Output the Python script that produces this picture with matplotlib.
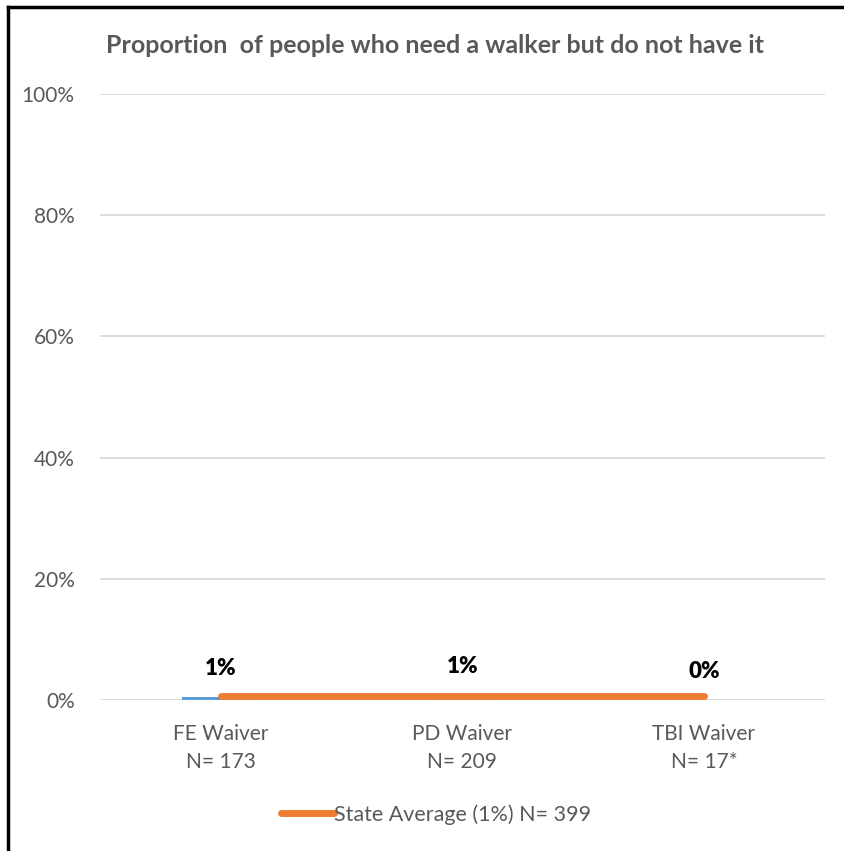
import matplotlib.pyplot as plt
from matplotlib.lines import Line2D
import numpy as np

plt.rcParams['font.family'] = ['Lato', 'DejaVu Sans']

categories = ["FE Waiver\nN= 173", "PD Waiver\nN= 209", "TBI Waiver\nN= 17*"]
values = [0.5, 0.8, 0.0]
value_labels = ["1%", "1%", "0%"]
state_avg = 0.7
state_label = "State Average (1%) N= 399"
title = "Proportion  of people who need a walker but do not have it"

grey = "#595959"

fig = plt.figure(figsize=(8.45, 8.51), dpi=100)
ax = fig.add_axes([0.118, 0.1774, 0.858, 0.7121])

x = np.arange(len(categories))
ax.bar(x, values, width=0.32, color="#5b9bd5", zorder=2)
ax.plot(x, [state_avg] * len(x), color="#ed7d31", lw=5, solid_capstyle="round",
        label=state_label, zorder=3)

for xi, v, lab in zip(x, values, value_labels):
    ax.annotate(lab, (xi, v), xytext=(0, 13), textcoords="offset points",
                ha="center", va="bottom", fontsize=16, fontweight="heavy", color="black")

ax.set_xlim(-0.5, 2.5)
ax.set_ylim(0, 100)
ax.set_yticks(np.arange(0, 101, 20))
ax.set_yticklabels([f"{t}%" for t in range(0, 101, 20)])
ax.set_xticks(x)
ax.set_xticklabels(categories, linespacing=1.55)
ax.tick_params(axis="both", length=0, labelsize=15, labelcolor=grey)
ax.tick_params(axis="y", pad=18)
ax.tick_params(axis="x", pad=17)
ax.yaxis.grid(True, color="#d9d9d9", lw=1.3, zorder=0)
for s in ax.spines.values():
    s.set_visible(False)

fig.text(0.515, 0.947, title, ha="center", va="center", fontsize=18,
         fontweight="bold", color=grey)

fig.legend(loc="center", bbox_to_anchor=(0.516, 0.043), frameon=False,
           fontsize=15.5, labelcolor=grey, handlelength=2.5, handletextpad=0.0)

# black frame on top and left edges
fig.add_artist(Line2D([0.009, 1.0], [0.992, 0.992], color="black", lw=2.5, transform=fig.transFigure))
fig.add_artist(Line2D([0.0098, 0.0098], [0.0, 0.992], color="black", lw=2.5, transform=fig.transFigure))

fig.savefig("out.png", dpi=100, facecolor="white")
